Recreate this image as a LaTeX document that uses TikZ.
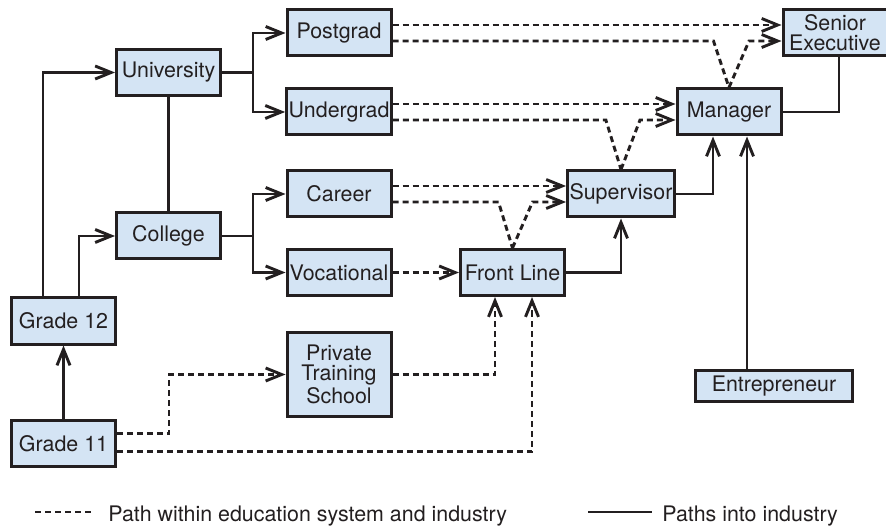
\documentclass[tikz,border=0pt]{standalone}
\usepackage{fontspec}
\setmainfont{TeX Gyre Heros}
\usetikzlibrary{arrows.meta, calc}
\definecolor{ink}{RGB}{35,31,32}
\definecolor{boxfill}{RGB}{212,228,244}
\tikzset{
    box/.style={draw=ink, fill=boxfill, line width=1.5pt, minimum width=52pt, minimum height=23pt, inner sep=1pt, align=center}, % 方框的样式
    link/.style={draw=ink, line width=1.45pt}, % 实线连线
    dlink/.style={link, dash pattern=on 3pt off 2pt}, % 虚线连线
    arr/.style={-{Straight Barb[length=8pt,width=6.5pt]}} % 箭头
}

\begin{document}
\begin{tikzpicture}[x=0.5pt, y=-0.5pt, font=\fontsize{10.7}{10}\selectfont, text=ink]
            \useasboundingbox (0,0) rectangle (886,528);

            \node[box] (post) at (339,33) {Postgrad};
            \node[box] (univ) at (168.5,72.5) {University};
            \node[box] (under) at (339,112) {Undergrad};
            \node[box] (career) at (339,194) {Career};
            \node[box] (coll) at (168.5,236) {College};
            \node[box] (voc) at (339,272.5) {Vocational};
            \node[box] (g12) at (63.5,321) {Grade 12};
            \node[box, minimum height=42pt] (pts) at (339,374.5) {Private\\Training\\School};
            \node[box] (g11) at (63.5,443.5) {Grade 11};
            \node[box] (senior) at (835,33) {Senior\\Executive};
            \node[box] (mgr) at (729,112) {Manager};
            \node[box] (sup) at (621,194) {Supervisor};
            \node[box] (front) at (512.5,272.5) {Front Line};
            \node[box, minimum width=78.5pt, minimum height=15.5pt] (ent) at (774,386) {Entrepreneur};

            % paths into industry
            \draw[link] (univ.south) -- (coll.north);
            \draw[link, arr] (univ.east) -- ++(31,0) |- (post.west);
            \draw[link, arr] (univ.east) -- ++(31,0) |- (under.west);
            \draw[link, arr] (coll.east) -- ++(31,0) |- (career.west);
            \draw[link, arr] (coll.east) -- ++(31,0) |- (voc.west);
            \draw[link, arr] ([xshift=-10.25pt]g12.north) |- (univ.west);
            \draw[link, arr] ([xshift=7.75pt]g12.north) |- (coll.west);
            \draw[link, arr] (g11.north) -- (g12.south);
            \draw[link, arr] (front.east) -| (sup.south);
            \draw[link, arr] (sup.east) -| ([xshift=-8pt]mgr.south);
            \coordinate (entup) at ([xshift=9pt]mgr.south);
            \draw[link, arr] (ent.north -| entup) -- (entup);
            \draw[link] (mgr.east) -| ([xshift=2pt]senior.south);

            % paths within education system and industry
            \draw[dlink, arr] ([yshift=4pt]post.east) -- ([yshift=4pt]senior.west);
            \draw[dlink] ([yshift=-4pt]post.east) -- ++(321,0) -- (mgr.north);
            \draw[dlink, arr] (mgr.north) -- ($(mgr.north |- senior.west)+(20,8)$) -- ([yshift=-4pt]senior.west);
            \draw[dlink, arr] ([yshift=4pt]under.east) -- ([yshift=4pt]mgr.west);
            \draw[dlink] ([yshift=-4pt]under.east) -- ++(213,0) -- (sup.north);
            \draw[dlink, arr] (sup.north) -- ($(sup.north |- mgr.west)+(19,8)$) -- ([yshift=-4pt]mgr.west);
            \draw[dlink, arr] ([yshift=4pt]career.east) -- ([yshift=4pt]sup.west);
            \draw[dlink] ([yshift=-4pt]career.east) -- ++(106,0) -- (front.north);
            \draw[dlink, arr] (front.north) -- ($(front.north |- sup.west)+(20,8)$) -- ([yshift=-4pt]sup.west);
            \draw[dlink, arr] (voc.east) -- (front.west);
            \draw[dlink, arr] (pts.east) -| ([xshift=-8.75pt]front.south);
            \draw[dlink, arr] ([yshift=5pt]g11.east) -- ++(52,0) |- (pts.west);
            \draw[dlink, arr] ([yshift=-4pt]g11.east) -| ([xshift=9.75pt]front.south);

            % legend
            \coordinate (legA) at (35,512);
            \draw[dlink] (legA) -- ++(57,0);
            \node[anchor=west, inner sep=0pt] (legdash) at (108,516.5) {Path within education system and industry};
            \coordinate (legB) at (588,512);
            \draw[link] (legB) -- ++(64,0);
            \node[anchor=west, inner sep=0pt] (legsolid) at (662,516.5) {Paths into industry};
        \end{tikzpicture}
\end{document}
